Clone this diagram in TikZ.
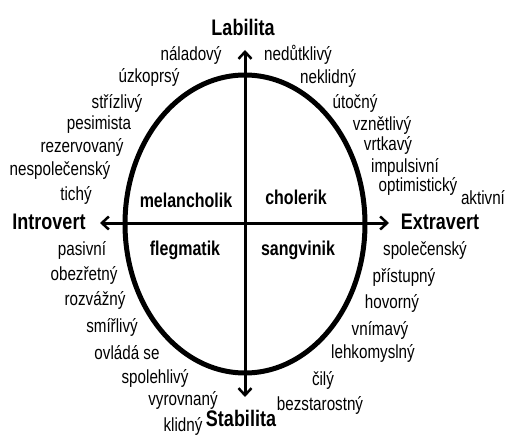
\documentclass[tikz,border=0pt]{standalone}
\usepackage{fontspec}
\setmainfont[FakeStretch=0.8]{Liberation Sans}
\usetikzlibrary{arrows.meta}
\begin{document}
\begin{tikzpicture}[x=1pt,y=-1pt,
  word/.style={font=\fontsize{19}{19}\selectfont, inner sep=0pt},
  pole/.style={font=\bfseries\fontsize{22.5}{22.5}\selectfont, inner sep=0pt},
  temper/.style={font=\bfseries\fontsize{20}{20}\selectfont, inner sep=0pt},
  axisline/.style={line width=3pt, {Straight Barb[length=7pt,width=13pt,line width=2.5pt]}-{Straight Barb[length=7pt,width=13pt,line width=2.5pt]}},
  ring/.style={line width=5pt}]
\useasboundingbox (0,0) rectangle (507,436);
\fill[white] (0,0) rectangle (507,436);
% ellipse
\coordinate (c) at (245,224);
\draw[ring] (c) ellipse [x radius=120, y radius=149];
% axes
\coordinate (top) at (245,50);
\coordinate (bot) at (245,397);
\coordinate (lft) at (100,223);
\coordinate (rgt) at (389,223);
\draw[axisline] (bot) -- (top);
\draw[axisline] (lft) -- (rgt);
% poles
\node[pole] (lab) at (243,27) {Labilita};
\node[pole] (stab) at (241,418) {Stabilita};
\node[pole] (intro) at (49,222) {Introvert};
\node[pole] (extra) at (440,222) {Extravert};
% temperaments
\node[temper] (mel) at (186,200) {melancholik};
\node[temper] (cho) at (296,197) {cholerik};
\node[temper] (fle) at (185,250) {flegmatik};
\node[temper] (san) at (298,250) {sangvinik};
% upper left
\node[word] (w1) at (191,55) {náladový};
\node[word] (w2) at (149,77) {úzkoprsý};
\node[word] (w3) at (117,103) {střízlivý};
\node[word] (w4) at (99,125) {pesimista};
\node[word] (w5) at (82,147) {rezervovaný};
\node[word] (w6) at (60,170) {nespolečenský};
\node[word] (w7) at (76,195) {tichý};
% upper right
\node[word] (e1) at (298,55) {nedůtklivý};
\node[word] (e2) at (328,78) {neklidný};
\node[word] (e3) at (355,103) {útočný};
\node[word] (e4) at (382,125) {vznětlivý};
\node[word] (e5) at (388,145) {vrtkavý};
\node[word] (e6) at (405,167) {impulsivní};
\node[word] (e7) at (418,186) {optimistický};
\node[word] (e8) at (483,198) {aktivní};
% lower left
\node[word] (s1) at (82,250) {pasivní};
\node[word] (s2) at (84,275) {obezřetný};
\node[word] (s3) at (95,300) {rozvážný};
\node[word] (s4) at (112,327) {smířlivý};
\node[word] (s5) at (127,353) {ovládá se};
\node[word] (s6) at (155,378) {spolehlivý};
\node[word] (s7) at (183,400) {vyrovnaný};
\node[word] (s8) at (183,426) {klidný};
% lower right
\node[word] (r1) at (425,250) {společenský};
\node[word] (r2) at (404,277) {přístupný};
\node[word] (r3) at (392,303) {hovorný};
\node[word] (r4) at (380,330) {vnímavý};
\node[word] (r5) at (373,353) {lehkomyslný};
\node[word] (r6) at (323,380) {čilý};
\node[word] (r7) at (320,405) {bezstarostný};
\end{tikzpicture}
\end{document}
